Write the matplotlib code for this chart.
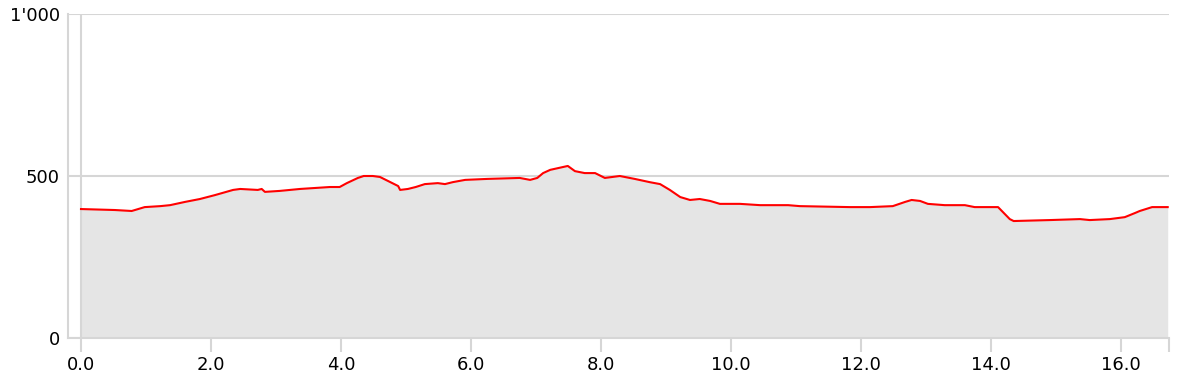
import matplotlib
matplotlib.use('Agg')
import matplotlib.pyplot as plt
from matplotlib.ticker import FuncFormatter

# distance (km) and elevation (m)
distance = [0.0, 0.52, 0.78, 0.98, 1.22, 1.37, 1.6, 1.83, 2.06, 2.34, 2.45, 2.72, 2.78, 2.83,
            3.06, 3.37, 3.83, 3.98, 4.09, 4.26, 4.35, 4.49, 4.6, 4.88, 4.91, 5.03, 5.15, 5.29,
            5.49, 5.6, 5.72, 5.91, 6.25, 6.75, 6.91, 7.02, 7.11, 7.22, 7.49, 7.6, 7.75, 7.91,
            8.06, 8.29, 8.52, 8.75, 8.91, 9.06, 9.22, 9.37, 9.52, 9.68, 9.83, 10.14, 10.45,
            10.88, 11.06, 11.83, 12.14, 12.49, 12.68, 12.78, 12.91, 13.03, 13.29, 13.6, 13.75,
            14.11, 14.29, 14.35, 14.91, 15.37, 15.52, 15.83, 16.06, 16.22, 16.29, 16.48, 16.72]
elevation = [398, 395, 392, 404, 407, 410, 420, 429, 441, 457, 460, 457, 460, 451,
             454, 460, 466, 466, 478, 494, 500, 500, 497, 469, 457, 460, 466, 475,
             478, 475, 481, 488, 491, 494, 488, 494, 509, 519, 531, 515, 509, 509,
             494, 500, 491, 481, 475, 457, 435, 426, 429, 423, 414, 414, 410,
             410, 407, 404, 404, 407, 420, 426, 423, 414, 410, 410, 404,
             404, 367, 361, 364, 367, 364, 367, 373, 386, 392, 404, 404]

x_ticks = [0, 2, 4, 6, 8, 10, 12, 14, 16]
y_ticks = [0, 500, 1000]
x_max = 16.74

W, H = 1178, 385
fig = plt.figure(figsize=(W / 100, H / 100), dpi=100)
ax = fig.add_axes([68 / W, (H - 338) / H, (1169 - 68) / W, (338 - 14) / H])

grey = '#d6d6d6'
ax.fill_between(distance, elevation, 0, color='#e5e5e5', lw=0, zorder=1)
ax.plot(distance, elevation, color='#ff0000', lw=1.5, zorder=3)
ax.axvline(0, color=grey, lw=1.5, zorder=2)

ax.set_xlim(-0.2, x_max)
ax.set_ylim(0, 1000)

ax.set_xticks(x_ticks + [x_max])
ax.set_xticklabels([f'{t:.1f}' for t in x_ticks] + [''])
ax.set_yticks(y_ticks)
ax.yaxis.set_major_formatter(FuncFormatter(lambda v, p: f'{int(v):,}'.replace(',', "'")))

for s in ['top', 'right']:
    ax.spines[s].set_visible(False)
for s in ['left', 'bottom']:
    ax.spines[s].set_color(grey)
    ax.spines[s].set_linewidth(1.5)

ax.grid(axis='y', color=grey, lw=1.5, zorder=0)
ax.set_axisbelow(True)
ax.tick_params(axis='x', length=10, width=1.5, color=grey, labelsize=13, pad=3)
ax.tick_params(axis='y', length=0, labelsize=13, pad=6)

fig.savefig('out.png', dpi=100)
